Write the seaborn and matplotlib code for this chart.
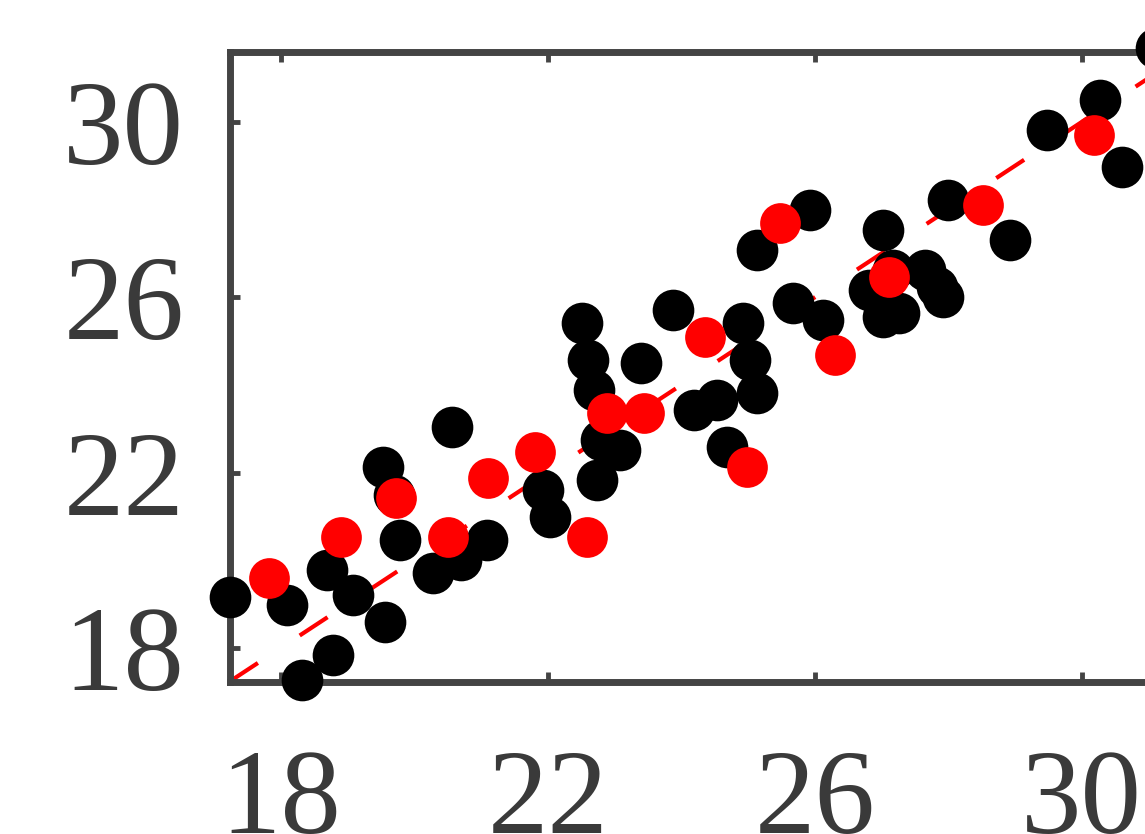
import numpy as np
import pandas as pd
import matplotlib
matplotlib.use("Agg")
import matplotlib.pyplot as plt
import seaborn as sns

# black points (measured vs reference)
black_x = [17.24, 18.09, 18.31, 18.78, 18.69, 19.08, 19.56, 19.53, 19.78, 20.28,
           20.56, 21.09, 20.70, 21.93, 22.03, 22.73, 23.08, 22.79, 22.51, 22.60,
           22.69, 23.39, 23.87, 24.19, 24.53, 24.68, 24.92, 25.03, 25.13, 25.13,
           25.93, 25.67, 26.13, 27.02, 26.82, 27.02, 27.27, 27.83, 27.92, 27.65,
           27.99, 28.92, 29.48, 30.27, 30.60, 31.12, 27.18, 19.69]
black_y = [19.16, 18.98, 17.27, 17.84, 19.78, 19.21, 18.59, 22.13, 20.46, 19.71,
           23.04, 20.46, 20.01, 21.60, 20.99, 21.83, 22.52, 22.74, 25.41, 24.57,
           23.89, 24.50, 25.71, 23.43, 23.66, 22.58, 25.41, 24.57, 23.82, 27.08,
           27.99, 25.87, 25.48, 27.54, 26.17, 25.55, 25.64, 26.24, 26.01, 26.62,
           28.22, 27.31, 29.82, 30.50, 28.97, 31.69, 26.62, 21.49]

# red points
red_x = [17.82, 18.90, 19.72, 20.50, 21.10, 21.81, 22.58, 22.88, 23.44, 24.35,
         24.99, 25.48, 26.30, 27.12, 28.52, 30.19]
red_y = [19.60, 20.53, 21.42, 20.53, 21.88, 22.47, 20.53, 23.36, 23.36, 25.09,
         22.13, 27.70, 24.68, 26.46, 28.11, 29.70]

ticks = [18, 22, 26, 30]

df_black = pd.DataFrame({'x': black_x, 'y': black_y})
df_red = pd.DataFrame({'x': red_x, 'y': red_y})

sns.set_style('ticks')
plt.rcParams['font.family'] = ['Liberation Serif', 'DejaVu Serif']

fig = plt.figure(figsize=(11.45, 8.34), dpi=100)
ax = fig.add_axes([0.2009, 0.1823, 0.8428, 0.7554])

# 1:1 line
ax.axline((18, 18), slope=1, color='red', lw=3, dashes=(8, 12), zorder=1)

sns.scatterplot(data=df_black, x='x', y='y', color='black', s=900,
                linewidth=0, ax=ax, zorder=2, clip_on=False)
sns.scatterplot(data=df_red, x='x', y='y', color='red', s=860,
                linewidth=0, ax=ax, zorder=3, clip_on=False)

ax.set_xlim(17.236, 31.7)
ax.set_ylim(17.22, 31.6)
ax.set_xticks(ticks)
ax.set_yticks(ticks)
ax.set_xlabel('')
ax.set_ylabel('')

for sp in ax.spines.values():
    sp.set_color('#444444')
    sp.set_linewidth(5)
    sp.set_zorder(1.5)

ax.tick_params(direction='in', length=7, width=3.5, color='#444444',
               labelsize=87, labelcolor='#3a3a3a', top=True, right=True)
ax.tick_params(axis='x', pad=48)
ax.tick_params(axis='y', pad=33)

fig.savefig('out.png', dpi=100)
